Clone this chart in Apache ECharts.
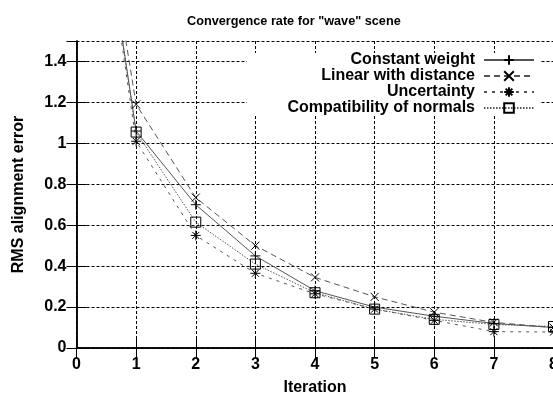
<!DOCTYPE html>
<html>
<head>
<meta charset="utf-8">
<script src="https://cdn.jsdelivr.net/npm/echarts@6/dist/echarts.min.js"></script>
<style>
  html, body { margin: 0; padding: 0; background: #fff; }
  #chart { width: 553px; height: 396px; }
</style>
</head>
<body>
<div id="chart"></div>
<script>
const iterations = [0, 1, 2, 3, 4, 5, 6, 7, 8]
const seriesNames = ['Constant weight', 'Linear with distance', 'Uncertainty', 'Compatibility of normals']
const constantWeight = [3.0, 1.06, 0.70, 0.45, 0.28, 0.20, 0.155, 0.12, 0.10]
const linearDistance = [3.0, 1.19, 0.735, 0.50, 0.345, 0.25, 0.175, 0.125, 0.10]
const uncertainty = [3.0, 1.01, 0.55, 0.365, 0.265, 0.19, 0.135, 0.08, 0.078]
const compatibility = [3.0, 1.055, 0.615, 0.41, 0.27, 0.19, 0.14, 0.115, 0.105]
const yTicks = [0, 0.2, 0.4, 0.6, 0.8, 1, 1.2, 1.4]

const font = '"Liberation Sans", Arial, sans-serif'

const chart = echarts.init(document.getElementById('chart'))

const pairs = arr => iterations.map((x, i) => [x, arr[i]])

const markers = [
  { symbol: 'path://M0,5L10,5M5,0L5,10', size: 10, dash: 'solid' },
  { symbol: 'path://M0,0L10,10M0,10L10,0', size: 8, dash: [6, 4] },
  { symbol: 'path://M5,0L5,10M0,5L10,5M1.5,1.5L8.5,8.5M1.5,8.5L8.5,1.5', size: 10, dash: [3, 5] },
  { symbol: 'rect', size: 10, dash: [1.5, 1.5] }
]
const values = [constantWeight, linearDistance, uncertainty, compatibility]

const axisCommon = {
  type: 'value',
  axisLine: { show: true, lineStyle: { color: '#000', width: 1.5 } },
  axisTick: { show: true, inside: true, length: 10, lineStyle: { color: '#000', width: 1 } }
}

const option = {
  animation: false,
  title: {
    text: 'Convergence rate for "wave" scene',
    left: 182,
    top: 10,
    textStyle: { fontSize: 12.7, fontWeight: 'bold', fontFamily: font, color: '#000' }
  },
  grid: { left: 76.5, top: 41, width: 477, height: 307, outerBoundsMode: 'none' },
  xAxis: [
    {
      ...axisCommon,
      min: 0, max: 8, interval: 1,
      name: 'Iteration',
      nameLocation: 'middle',
      nameGap: 32,
      nameTextStyle: { fontSize: 16, fontWeight: 'bold', fontFamily: font, color: '#000' },
      axisLabel: { margin: 9, fontSize: 16, fontWeight: 'bold', fontFamily: font, color: '#000' },
      splitLine: { show: true, lineStyle: { color: '#000', type: [3, 2], width: 1 } }
    },
    {
      ...axisCommon,
      position: 'top',
      min: 0, max: 8, interval: 1,
      axisLabel: { show: false },
      splitLine: { show: false }
    }
  ],
  yAxis: [
    {
      ...axisCommon,
      min: 0, max: 1.5, interval: 0.2,
      name: 'RMS alignment error',
      nameLocation: 'middle',
      nameGap: 50,
      nameTextStyle: { fontSize: 16, fontWeight: 'bold', fontFamily: font, color: '#000' },
      axisLabel: {
        margin: 10, fontSize: 16, fontWeight: 'bold', fontFamily: font, color: '#000',
        showMaxLabel: false,
        formatter: v => yTicks.some(t => Math.abs(t - v) < 1e-6) ? String(+v.toFixed(1)) : ''
      },
      splitLine: { show: true, lineStyle: { color: '#000', type: [3, 2], width: 1 } }
    },
    {
      ...axisCommon,
      position: 'right',
      min: 0, max: 1.5, interval: 0.2,
      axisLabel: { show: false },
      splitLine: { show: false }
    }
  ],
  graphic: [
    { type: 'rect', z: 1, shape: { x: 247, y: 53, width: 294, height: 62 }, style: { fill: '#fff' } }
  ],
  legend: seriesNames.map((n, i) => ({
    data: [n],
    right: 18,
    top: 52 + 16 * i,
    orient: 'vertical',
    align: 'right',
    itemWidth: 50,
    itemHeight: 12,
    padding: 0,
    selectedMode: false,
    textStyle: { fontSize: 16, fontWeight: 'bold', fontFamily: font, color: '#000', padding: [0, 4, 0, 0] }
  })),
  series: values.map((arr, i) => ({
    name: seriesNames[i],
    type: 'line',
    data: pairs(arr),
    symbol: markers[i].symbol,
    symbolSize: markers[i].size,
    showAllSymbol: true,
    clip: true,
    z: 3,
    lineStyle: { color: '#555', width: 1, type: markers[i].dash },
    itemStyle: { color: 'none', borderColor: '#000', borderWidth: 1 }
  }))
}

chart.setOption(option)
</script>
</body>
</html>
